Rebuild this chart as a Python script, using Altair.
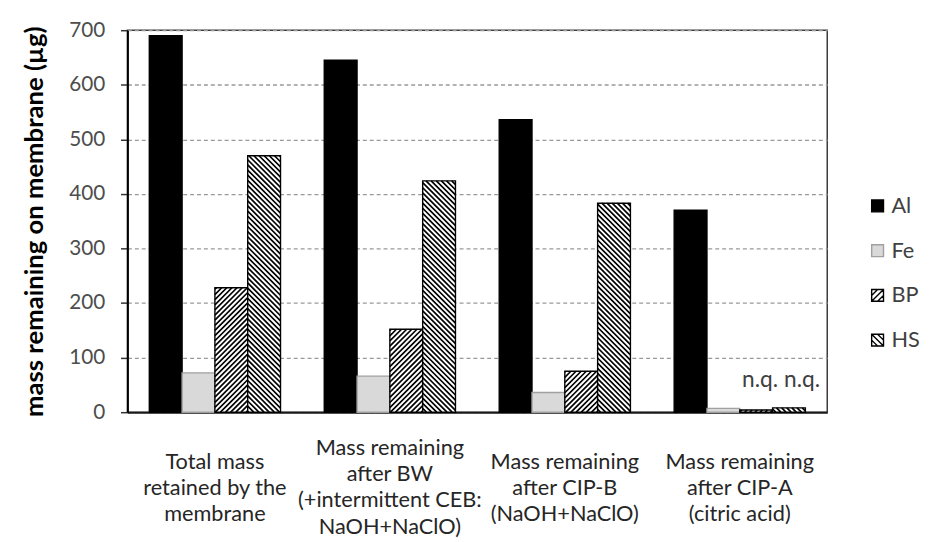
import math
import altair as alt
import pandas as pd

# ---------------- data ----------------
CATEGORY_LINES = [
    ["Total mass", "retained by the", "membrane"],
    ["Mass remaining", "after BW", "(+intermittent  CEB:", "NaOH+NaClO)"],
    ["Mass remaining", "after CIP-B", "(NaOH+NaClO)"],
    ["Mass remaining", "after CIP-A", "(citric acid)"],
]
SERIES = ["Al", "Fe", "BP", "HS"]
AL = [690, 645, 536, 370]
FE = [72, 66, 36, 7]
BP = [228, 152, 75, 4]
HS = [470, 424, 383, 8]
Y_TICKS = [0, 100, 200, 300, 400, 500, 600, 700]
Y_TITLE = "mass remaining on membrane (µg)"
NQ_TEXT = "n.q. n.q."

# ---------------- layout / style ----------------
FONT = "Lato"
W, H = 709, 387
YMAX = 700
PAD_INNER, PAD_OUTER = 0.25, 0.125
HATCH_PERIOD = 5.2
LINE_H = 26.5

CATEGORIES = ["|".join(lines) for lines in CATEGORY_LINES]
values = {"Al": AL, "Fe": FE, "BP": BP, "HS": HS}

rows = []
for s in SERIES:
    for c, v in zip(CATEGORIES, values[s]):
        rows.append({"category": c, "series": s, "value": v})
df = pd.DataFrame(rows)

# pixel size of one bar (band scale geometry)
step = W / (len(CATEGORIES) - PAD_INNER + 2 * PAD_OUTER)
bar_w = step * (1 - PAD_INNER) / len(SERIES)


def hatch_path(w, h, direction):
    """diagonal hatch lines clipped to a w x h box, normalised to [-1, 1]."""
    side = max(w, h)
    half = side / 2
    segs = []
    cmax = w / 2 + h / 2
    k0, k1 = math.ceil(-cmax / HATCH_PERIOD), math.floor(cmax / HATCH_PERIOD)
    for k in range(k0, k1 + 1):
        c = k * HATCH_PERIOD
        if direction == "/":
            lo, hi = max(-w / 2, c - h / 2), min(w / 2, c + h / 2)
            if hi - lo < 0.4:
                continue
            p1, p2 = (lo, c - lo), (hi, c - hi)
        else:
            lo, hi = max(-w / 2, -h / 2 - c), min(w / 2, h / 2 - c)
            if hi - lo < 0.4:
                continue
            p1, p2 = (lo, lo + c), (hi, hi + c)
        segs.append(
            f"M{p1[0]/half:.4f},{p1[1]/half:.4f}L{p2[0]/half:.4f},{p2[1]/half:.4f}"
        )
    return "".join(segs) or "M0,0", side * side


hatch_rows = []
for s, d in (("BP", "/"), ("HS", "\\")):
    for c, v in zip(CATEGORIES, values[s]):
        h = v * H / YMAX
        path, size = hatch_path(bar_w, h, d)
        hatch_rows.append(
            {"category": c, "series": s, "mid": v / 2, "path": path, "size": size}
        )
hatch_df = pd.DataFrame(hatch_rows)

nq_df = pd.DataFrame(
    [{"category": CATEGORIES[3], "series": "HS", "value": HS[3], "label": NQ_TEXT}]
)

fill_scale = alt.Scale(domain=SERIES, range=["#000000", "#d9d9d9", "#ffffff", "#ffffff"])
stroke_scale = alt.Scale(domain=SERIES, range=["#000000", "#a0a0a0", "#000000", "#000000"])

# vertically centre each multi-line label block (first line offset by line count)
label_pad = {
    "condition": {"test": "length(split(datum.value, '|')) > 3", "value": 36},
    "value": 50,
}

x_enc = alt.X(
    "category:N",
    sort=CATEGORIES,
    scale=alt.Scale(domain=CATEGORIES, paddingInner=PAD_INNER, paddingOuter=PAD_OUTER),
    axis=alt.Axis(
        title=None,
        labelExpr="split(datum.label, '|')",
        labelAngle=0,
        ticks=False,
        labelBaseline="middle",
        labelAlign="center",
        labelPadding=label_pad,
        labelLineHeight=LINE_H,
        labelFontSize=22,
        labelColor="#262626",
        labelLimit=0,
        domainColor="#1a1a1a",
        domainWidth=2,
        labelFont=FONT,
    ),
)
xo_enc = alt.XOffset(
    "series:N", sort=SERIES, scale=alt.Scale(domain=SERIES, paddingInner=0, paddingOuter=0)
)
y_scale = alt.Scale(domain=[0, YMAX], nice=False, zero=True)

bars = (
    alt.Chart(df)
    .mark_bar(strokeWidth=1.4)
    .encode(
        x=x_enc,
        xOffset=xo_enc,
        y=alt.Y(
            "value:Q",
            scale=y_scale,
            axis=alt.Axis(
                values=Y_TICKS,
                title=Y_TITLE,
                titleFont=FONT,
                titleFontSize=26,
                titleFontWeight="bold",
                titleColor="#000000",
                titlePadding=21,
                labelFont=FONT,
                labelFontSize=21,
                labelColor="#4d4d4d",
                labelPadding=16,
                tickSize=7,
                tickColor="#333333",
                tickWidth=1.5,
                domainColor="#000000",
                domainWidth=2,
                grid=True,
                gridDash=[4, 3],
                gridColor="#999999",
                gridWidth=1.3,
            ),
        ),
        fill=alt.Fill("series:N", scale=fill_scale, legend=None),
        stroke=alt.Stroke("series:N", scale=stroke_scale, legend=None),
    )
)

hatch = (
    alt.Chart(hatch_df)
    .mark_point(filled=False, stroke="#000000", strokeWidth=1.7, opacity=1, strokeCap="butt")
    .encode(
        x=x_enc,
        xOffset=xo_enc,
        y=alt.Y("mid:Q", scale=y_scale),
        shape=alt.Shape("path:N", scale=None),
        size=alt.Size("size:Q", scale=None),
    )
)

nq = (
    alt.Chart(nq_df)
    .mark_text(font=FONT, fontSize=23, color="#404040", align="center", baseline="middle", dx=-8, dy=-28)
    .encode(
        x=x_enc,
        xOffset=xo_enc,
        y=alt.Y("value:Q", scale=y_scale),
        text="label:N",
    )
)

main = alt.layer(bars, hatch, nq).properties(
    width=W, height=H, view=alt.ViewBackground(stroke="#3a3a3a", strokeWidth=1.5)
)

# ---------------- legend panel ----------------
SQUARE = "M-1,-1H1V1H-1Z"
HATCH_UP = SQUARE + "M-1,1L1,-1M-1,0L0,-1M0,1L1,0"
HATCH_DOWN = SQUARE + "M-1,-1L1,1M-1,0L0,1M0,-1L1,0"
legend_df = pd.DataFrame({"series": SERIES, "order": list(range(len(SERIES)))})
LEG_STEP = 45.33
LEG_FIRST = 178
leg_lo = -LEG_FIRST / LEG_STEP
leg_y = alt.Y(
    "order:Q",
    scale=alt.Scale(domain=[leg_lo, leg_lo + H / LEG_STEP], reverse=True, nice=False, zero=False),
    axis=None,
)
leg_sym = (
    alt.Chart(legend_df)
    .mark_point(filled=True, size=144, strokeWidth=1.4, opacity=1)
    .encode(
        x=alt.value(35),
        y=leg_y,
        shape=alt.Shape(
            "series:N",
            scale=alt.Scale(domain=SERIES, range=[SQUARE, SQUARE, HATCH_UP, HATCH_DOWN]),
            legend=None,
        ),
        fill=alt.Fill("series:N", scale=fill_scale, legend=None),
        stroke=alt.Stroke("series:N", scale=stroke_scale, legend=None),
    )
)
leg_txt = (
    alt.Chart(legend_df)
    .mark_text(font=FONT, fontSize=22, color="#404040", align="left", baseline="middle")
    .encode(x=alt.value(49), y=leg_y, text="series:N")
)
legend = alt.layer(leg_sym, leg_txt).properties(
    width=80, height=H, view=alt.ViewBackground(strokeWidth=0)
)

chart = (
    alt.hconcat(main, legend, spacing=15)
    .properties(padding={"left": 13, "top": 7, "right": 0, "bottom": 0})
    .configure(font=FONT)
    .configure_view(strokeWidth=0)
)

chart.save("out.html", embed_options={"renderer": "svg", "actions": False})
